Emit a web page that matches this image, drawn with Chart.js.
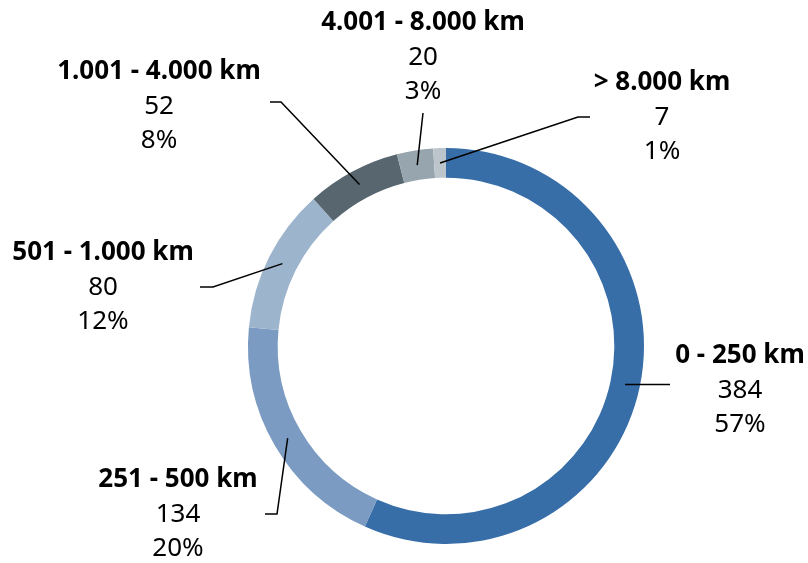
<!DOCTYPE html>
<html>
<head>
<meta charset="utf-8">
<script src="https://cdn.jsdelivr.net/npm/chart.js@4.4.1/dist/chart.umd.min.js"></script>
<style>
  html, body { margin: 0; padding: 0; background: #fff; }
  #wrap { width: 808px; height: 563px; }
</style>
</head>
<body>
<div id="wrap"><canvas id="myChart"></canvas></div>
<script>
const distancias = [
  "0 - 250 km",
  "251 - 500 km",
  "501 - 1.000 km",
  "1.001 - 4.000 km",
  "4.001 - 8.000 km",
  "> 8.000 km",
];
const vuelos = [384, 134, 80, 52, 20, 7];
const colores = ["#386ea8", "#7b9bc2", "#9db4cd", "#57666f", "#97a5ae", "#bcc5cb"];

// where each label block sits and the bend points of its leader line
// (null y = stay at the height of the previous point)
const etiquetas = [
  { x: 740, y: 356, linea: [[670, null]] },
  { x: 178, y: 480, linea: [[277, 514], [265, 514]] },
  { x: 103, y: 253, linea: [[213, 287], [200, 287]] },
  { x: 159, y: 72, linea: [[281, 102], [270, 102]] },
  { x: 423, y: 23, linea: [[423, 113]] },
  { x: 662, y: 83, linea: [[578, 117], [590, 117]] },
];

const total = vuelos.reduce((a, b) => a + b, 0);

const etiquetasPlugin = {
  id: "etiquetas",
  afterDatasetsDraw(chart) {
    const c = chart.ctx;
    const arcs = chart.getDatasetMeta(0).data;
    c.save();
    arcs.forEach((arc, i) => {
      const p = arc.getProps(["x", "y", "startAngle", "endAngle", "innerRadius", "outerRadius"], true);
      const ang = (p.startAngle + p.endAngle) / 2;
      const r = (p.innerRadius + p.outerRadius) / 2;
      let px = p.x + Math.cos(ang) * r;
      let py = p.y + Math.sin(ang) * r;
      const et = etiquetas[i];

      c.strokeStyle = "#000";
      c.lineWidth = 1.5;
      c.beginPath();
      c.moveTo(px, py);
      et.linea.forEach(([lx, ly]) => {
        px = lx;
        py = ly === null ? py : ly;
        c.lineTo(px, py);
      });
      c.stroke();

      c.fillStyle = "#000";
      c.textAlign = "center";
      c.textBaseline = "middle";
      c.font = "bold 26px 'Noto Sans'";
      c.fillText(distancias[i], et.x, et.y);
      c.font = "26px 'Noto Sans'";
      c.fillText(String(vuelos[i]), et.x, et.y + 35);
      c.fillText(Math.round((vuelos[i] / total) * 100) + "%", et.x, et.y + 69);
    });
    c.restore();
  },
};

const ctx = document.getElementById("myChart");
const myChart = new Chart(ctx, {
  type: "doughnut",
  data: {
    labels: distancias,
    datasets: [
      {
        label: "Vuelos",
        data: vuelos,
        backgroundColor: colores,
        borderWidth: 0,
      },
    ],
  },
  options: {
    responsive: true,
    maintainAspectRatio: false,
    animation: false,
    cutout: "85%",
    layout: { padding: { top: 147, bottom: 18, left: 248, right: 164 } },
    plugins: {
      legend: { display: false },
      tooltip: { enabled: false },
    },
  },
  plugins: [etiquetasPlugin],
});
</script>
</body>
</html>
